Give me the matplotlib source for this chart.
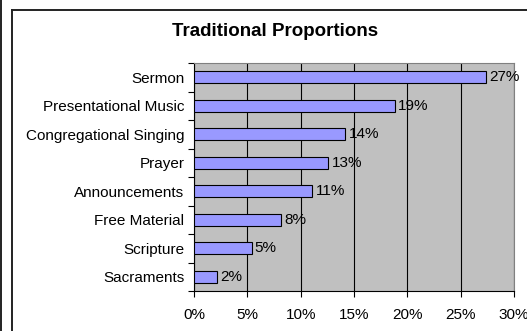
import numpy as np
import matplotlib.pyplot as plt
from matplotlib.lines import Line2D
from matplotlib.ticker import FixedLocator, PercentFormatter

categories = ["Sermon", "Presentational Music", "Congregational Singing", "Prayer",
              "Announcements", "Free Material", "Scripture", "Sacraments"]
shares = [27.4, 18.8, 14.2, 12.6, 11.1, 8.2, 5.4, 2.2]
xticks = [0, 5, 10, 15, 20, 25, 30]

plt.rcParams['font.family'] = ['Liberation Sans', 'DejaVu Sans']
fs = 11

fig = plt.figure(figsize=(5.27, 3.31), dpi=100)
ax = fig.add_axes([194/527, 40/331, 320/527, 228/331])

pos = np.arange(len(categories))[::-1]
ax.barh(pos, shares, height=0.43, color='#9999FF', edgecolor='black', linewidth=0.8, zorder=3)
for y, v in zip(pos, shares):
    ax.text(v + 0.3, y, f"{round(v):d}%", va='center', ha='left', fontsize=fs, zorder=4)

ax.set_facecolor('#C0C0C0')
ax.set_xlim(0, 30)
ax.set_ylim(-0.5, len(categories) - 0.5)
ax.xaxis.set_major_locator(FixedLocator(xticks))
ax.xaxis.set_major_formatter(PercentFormatter(decimals=0))
ax.grid(axis='x', color='black', linewidth=0.8, zorder=1)

ax.set_yticks(pos)
ax.set_yticklabels(categories)
ax.yaxis.set_minor_locator(FixedLocator(np.arange(-0.5, len(categories), 1)))
ax.tick_params(axis='y', which='major', length=0, pad=7, labelsize=fs)
ax.tick_params(axis='y', which='minor', length=4, width=0.8, direction='out')
ax.tick_params(axis='x', length=4, width=0.8, direction='out', pad=8, labelsize=fs)

for side in ['top', 'right']:
    ax.spines[side].set_color('#808080')
    ax.spines[side].set_linewidth(0.8)
for side in ['left', 'bottom']:
    ax.spines[side].set_color('black')
    ax.spines[side].set_linewidth(0.8)

fig.text(275/527, 1 - 31/331, "Traditional Proportions", ha='center', va='center',
         fontsize=13.5, fontweight='bold')

# outer chart frame and neighbouring edge
W, H = 527, 331
fig.add_artist(Line2D([12/W, 12/W], [0, 1 - 10/H], color='#222222', linewidth=1.4))
fig.add_artist(Line2D([12/W, 1], [1 - 10/H, 1 - 10/H], color='#222222', linewidth=1.4))
fig.add_artist(Line2D([1/W, 1/W], [0, 1], color='#222222', linewidth=1.4))

fig.savefig("out.png", dpi=100)
